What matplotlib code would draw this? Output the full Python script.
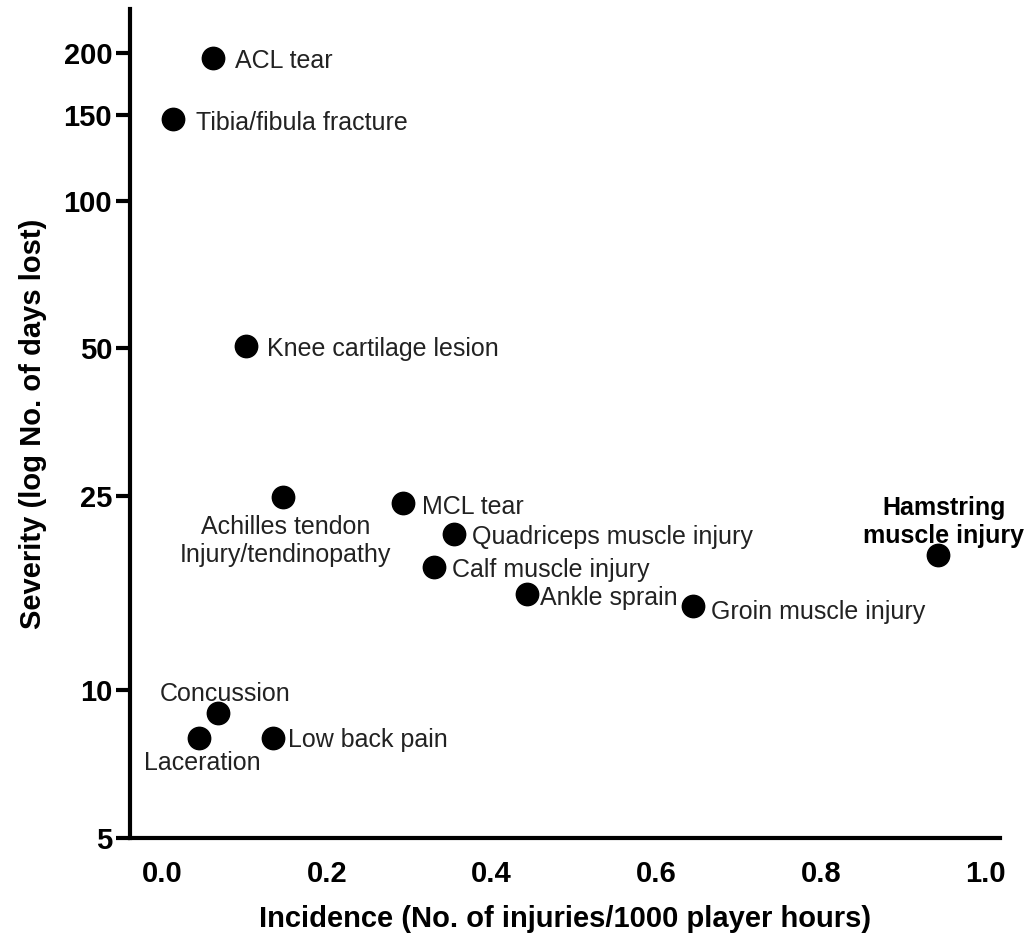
import matplotlib
matplotlib.use("Agg")
import matplotlib.pyplot as plt
from matplotlib.ticker import FixedLocator, FixedFormatter, NullLocator

plt.rcParams['font.family'] = ['Liberation Sans', 'DejaVu Sans']

# injury data
injuries = ['ACL tear', 'Tibia/fibula fracture', 'Knee cartilage lesion',
            'Achilles tendon\nInjury/tendinopathy', 'MCL tear',
            'Quadriceps muscle injury', 'Calf muscle injury', 'Ankle sprain',
            'Groin muscle injury', 'Hamstring\nmuscle injury', 'Concussion',
            'Laceration', 'Low back pain']
incidence = [0.062, 0.013, 0.102, 0.147, 0.292, 0.354, 0.330, 0.443,
             0.645, 0.942, 0.068, 0.045, 0.134]
severity = [196, 147, 50.5, 24.8, 24.1, 20.9, 17.9, 15.7, 14.9, 18.9,
            9.0, 8.0, 8.0]

y_ticks = [5, 10, 25, 50, 100, 150, 200]
x_ticks = [0.0, 0.2, 0.4, 0.6, 0.8, 1.0]

# label placement (pixel offset from the dot, alignment)
label_pos = {
    'ACL tear': ((22, -3), 'left', 'center'),
    'Tibia/fibula fracture': ((23, -4), 'left', 'center'),
    'Knee cartilage lesion': ((21, -3), 'left', 'center'),
    'Achilles tendon\nInjury/tendinopathy': ((2, -44), 'center', 'center'),
    'MCL tear': ((19, -4), 'left', 'center'),
    'Quadriceps muscle injury': ((18, -3), 'left', 'center'),
    'Calf muscle injury': ((18, -3), 'left', 'center'),
    'Ankle sprain': ((13, -4), 'left', 'center'),
    'Groin muscle injury': ((18, -6), 'left', 'center'),
    'Hamstring\nmuscle injury': ((6, 33), 'center', 'center'),
    'Concussion': ((7, 19), 'center', 'center'),
    'Laceration': ((3, -25), 'center', 'center'),
    'Low back pain': ((15, -2), 'left', 'center'),
}

fig = plt.figure(figsize=(10.26, 9.34), dpi=100)
ax = fig.add_axes([0.127, 0.103, 0.848, 0.887])

ax.scatter(incidence, severity, s=260, color='black', zorder=3)

for name, x, y in zip(injuries, incidence, severity):
    off, ha, va = label_pos[name]
    weight = 'bold' if name.startswith('Hamstring') else 'normal'
    color = 'black' if weight == 'bold' else '#222222'
    ax.annotate(name, (x, y), xytext=off, textcoords='offset pixels',
                ha=ha, va=va, fontsize=18, fontweight=weight, color=color,
                linespacing=1.2, annotation_clip=False)

ax.set_yscale('log')
ax.set_ylim(5, 246)
ax.set_xlim(-0.039, 1.018)
ax.yaxis.set_major_locator(FixedLocator(y_ticks))
ax.yaxis.set_major_formatter(FixedFormatter([str(t) for t in y_ticks]))
ax.yaxis.set_minor_locator(NullLocator())
ax.set_xticks(x_ticks)
ax.set_xticklabels([f'{t:.1f}' for t in x_ticks])

for side in ['top', 'right']:
    ax.spines[side].set_visible(False)
for side in ['left', 'bottom']:
    ax.spines[side].set_linewidth(3)

ax.tick_params(axis='y', length=10, width=3, pad=3, labelsize=21)
ax.tick_params(axis='x', length=0, pad=16, labelsize=21)
for lbl in ax.get_xticklabels() + ax.get_yticklabels():
    lbl.set_fontweight('bold')

ax.set_xlabel('Incidence (No. of injuries/1000 player hours)',
              fontsize=21, fontweight='bold', labelpad=12)
ax.set_ylabel('Severity (log No. of days lost)',
              fontsize=21, fontweight='bold', labelpad=12)

fig.savefig('out.png', dpi=100)
